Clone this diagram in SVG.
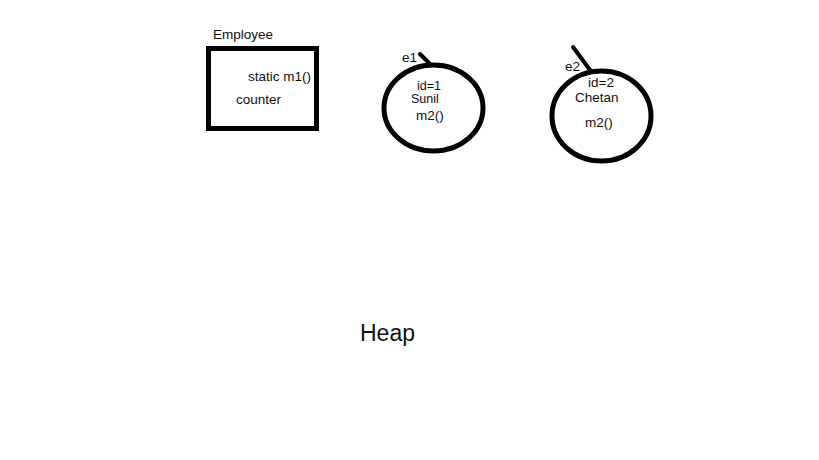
<svg xmlns="http://www.w3.org/2000/svg" width="819" height="460" viewBox="0 0 819 460">
<style>
text{font-family:"Liberation Sans",Arial,sans-serif;font-size:13.5px;fill:#111}
.shape{fill:none;stroke:#000;stroke-width:5}
.ref{stroke:#000;stroke-width:4;stroke-linecap:round}
.sm{font-size:12.5px}
</style>
<rect width="819" height="460" fill="#fff"/>
<g id="employee">
<text x="213" y="39">Employee</text>
<rect class="shape" x="208.5" y="48.5" width="108" height="80"/>
<text x="248" y="81">static m1()</text>
<text x="236" y="104">counter</text>
</g>
<g id="e1obj">
<ellipse class="shape" cx="433.5" cy="108" rx="49.5" ry="43"/>
<text class="sm" x="417" y="90" fill="#3a1a00">id=1</text>
<text class="sm" x="411" y="103" fill="#06306a">Sunil</text>
<text x="416" y="120">m2()</text>
</g>
<g id="e2obj">
<ellipse class="shape" cx="601.5" cy="116" rx="49.5" ry="45"/>
<text x="588" y="87">id=2</text>
<text x="575" y="102" fill="#2a1a00">Chetan</text>
<text x="585" y="127">m2()</text>
</g>
<g id="connectors">
<line class="ref" x1="420" y1="54" x2="430" y2="64"/>
<text x="402" y="62">e1</text>
<line class="ref" x1="573" y1="47" x2="590" y2="70"/>
<text x="565" y="71">e2</text>
</g>
<g id="heap">
<text x="360" y="341" style="font-size:23px">Heap</text>
</g>
</svg>
